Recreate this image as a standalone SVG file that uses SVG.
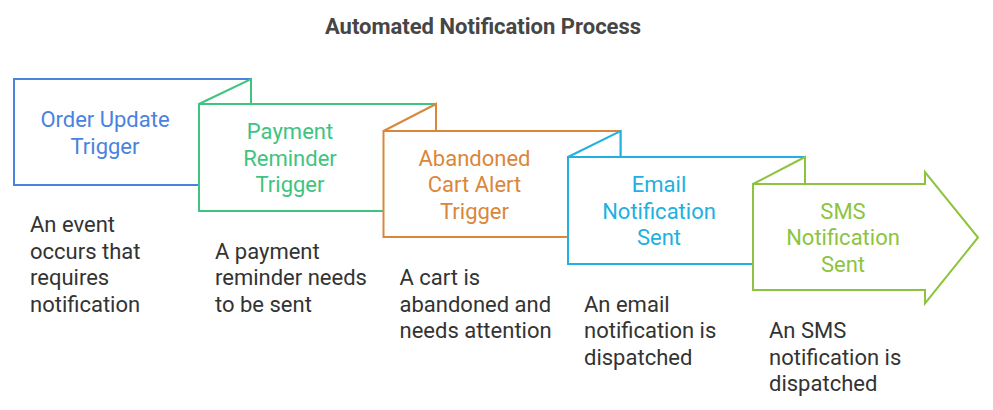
<svg xmlns="http://www.w3.org/2000/svg" width="993" height="410" viewBox="0 0 993 410">
<style>
.t{font-family:Roboto,"Liberation Sans",sans-serif;font-size:22px;text-anchor:middle}
.d{font-family:Roboto,"Liberation Sans",sans-serif;font-size:22px;fill:#333333}
.s{fill:#ffffff;stroke-width:2;stroke-linejoin:miter}
.title{font-family:Roboto,"Liberation Sans",sans-serif;font-size:22px;font-weight:bold;fill:#464646;text-anchor:middle}
</style>
<rect width="993" height="410" fill="#ffffff"/>
<text class="title" x="483" y="34">Automated Notification Process</text>
<g id="connectors"></g>
<g id="node1">
<rect class="s" x="14" y="79" width="237" height="106" stroke="#4a82e0"/>
<text class="t" fill="#4a82e0"><tspan x="105" y="127">Order Update</tspan><tspan x="105" y="153.5">Trigger</tspan></text>
<text class="d"><tspan x="30" y="232">An event</tspan><tspan x="30" y="258.5">occurs that</tspan><tspan x="30" y="285">requires</tspan><tspan x="30" y="311.5">notification</tspan></text>
</g>
<g id="node2">
<path class="s" d="M199,104 L251,79 L251,104 Z" stroke="#3ec47f"/>
<rect class="s" x="199" y="104" width="237" height="107" stroke="#3ec47f"/>
<text class="t" fill="#3ec47f"><tspan x="290" y="139">Payment</tspan><tspan x="290" y="165.5">Reminder</tspan><tspan x="290" y="192">Trigger</tspan></text>
<text class="d"><tspan x="215" y="258.5">A payment</tspan><tspan x="215" y="285">reminder needs</tspan><tspan x="215" y="311.5">to be sent</tspan></text>
</g>
<g id="node3">
<path class="s" d="M383.5,131 L436,104 L436,131 Z" stroke="#d9873a"/>
<rect class="s" x="383.5" y="131" width="237" height="106" stroke="#d9873a"/>
<text class="t" fill="#d9873a"><tspan x="474.5" y="165.5">Abandoned</tspan><tspan x="474.5" y="192">Cart Alert</tspan><tspan x="474.5" y="218.5">Trigger</tspan></text>
<text class="d"><tspan x="399.5" y="285">A cart is</tspan><tspan x="399.5" y="311.5">abandoned and</tspan><tspan x="399.5" y="338">needs attention</tspan></text>
</g>
<g id="node4">
<path class="s" d="M568,157 L620.5,131 L620.5,157 Z" stroke="#22b0e0"/>
<rect class="s" x="568" y="157" width="237" height="107" stroke="#22b0e0"/>
<text class="t" fill="#22b0e0"><tspan x="659" y="192">Email</tspan><tspan x="659" y="218.5">Notification</tspan><tspan x="659" y="245">Sent</tspan></text>
<text class="d"><tspan x="584" y="311.5">An email</tspan><tspan x="584" y="338">notification is</tspan><tspan x="584" y="364.5">dispatched</tspan></text>
</g>
<g id="node5">
<path class="s" d="M753,184 L805,157 L805,184 Z" stroke="#8dc43f"/>
<path class="s" d="M753,184 L925,184 L925,172 L978,237.5 L925,303.5 L925,290 L753,290 Z" stroke="#8dc43f"/>
<text class="t" fill="#8dc43f"><tspan x="843" y="218.5">SMS</tspan><tspan x="843" y="245">Notification</tspan><tspan x="843" y="271.5">Sent</tspan></text>
<text class="d"><tspan x="769" y="338">An SMS</tspan><tspan x="769" y="364.5">notification is</tspan><tspan x="769" y="391">dispatched</tspan></text>
</g>
</svg>
